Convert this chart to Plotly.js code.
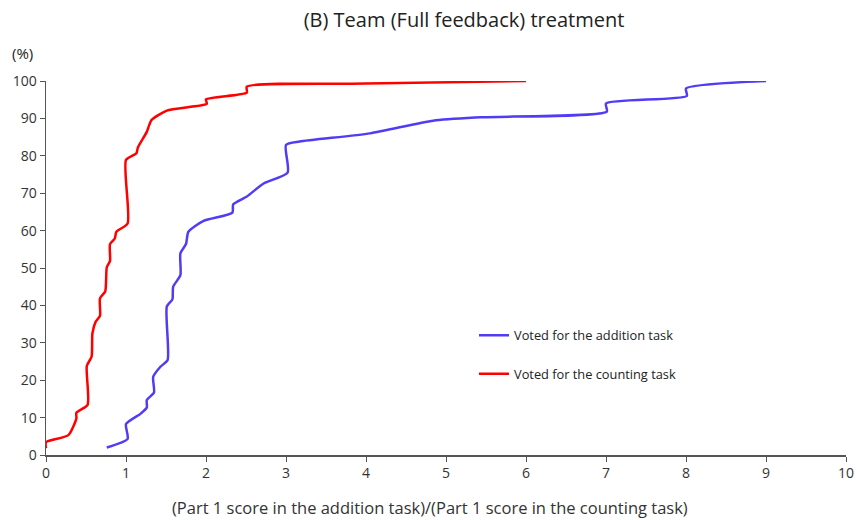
<!DOCTYPE html>
<html>
<head>
<meta charset="utf-8">
<script src="https://cdn.plot.ly/plotly-3.0.1.min.js"></script>
<style>html,body{margin:0;padding:0;background:#fff;}#chart{width:857px;height:520px;}</style>
</head>
<body>
<div id="chart"></div>
<script>
var addX = [0.76, 1.02, 1.0, 1.18, 1.26, 1.26, 1.35, 1.34, 1.43, 1.52, 1.51, 1.58, 1.59, 1.68, 1.68, 1.75, 1.78, 1.97, 2.33, 2.34, 2.51, 2.72, 3.02, 3.0, 3.17, 4.05, 4.84, 5.43, 7.01, 7.0, 8.01, 8.0, 9.0];
var addY = [2.0, 4.3, 8.3, 11.0, 12.7, 14.7, 16.7, 20.9, 23.6, 25.4, 39.7, 41.6, 45.0, 48.1, 53.9, 56.4, 59.7, 62.6, 64.8, 67.0, 69.1, 72.6, 75.5, 82.9, 83.8, 86.0, 89.4, 90.3, 91.8, 94.0, 96.0, 98.0, 100];
var cntX = [0, 0, 0.28, 0.38, 0.38, 0.52, 0.51, 0.57, 0.58, 0.62, 0.675, 0.675, 0.74, 0.76, 0.8, 0.8, 0.86, 0.88, 1.02, 1.0, 1.13, 1.15, 1.26, 1.29, 1.32, 1.51, 2.01, 2.0, 2.51, 2.51, 4.0, 6.0];
var cntY = [1.8, 3.4, 5.3, 9.8, 11.3, 13.4, 23.8, 26.3, 32.5, 35.6, 37.2, 41.9, 43.7, 50.2, 51.9, 56.4, 57.9, 59.7, 61.9, 78.9, 80.7, 82.3, 86.4, 88.2, 89.6, 92.1, 93.9, 95.1, 96.9, 98.5, 99.3, 100];
var xTicks = [0,1,2,3,4,5,6,7,8,9,10];
var yTicks = [0,10,20,30,40,50,60,70,80,90,100];
var names = ["Voted for the addition task", "Voted for the counting task"];
var titleText = "(B) Team (Full feedback) treatment";
var xTitle = "(Part 1 score in the addition task)/(Part 1 score in the counting task)";
var yUnit = "(%)";

var F = "'Open Sans', sans-serif";
var traces = [
  {x: addX, y: addY, name: names[0], mode: "lines", legendgroup: "a",
   line: {color: "rgb(80,60,245)", width: 2.5, shape: "spline", smoothing: 0.6}},
  {x: cntX, y: cntY, name: names[1], mode: "lines", legendgroup: "b",
   line: {color: "rgb(255,0,0)", width: 2.5, shape: "spline", smoothing: 0.6}}
];
var layout = {
  width: 857, height: 520,
  margin: {l: 46, r: 11, t: 81, b: 65},
  paper_bgcolor: "#fff", plot_bgcolor: "#fff",
  font: {family: F, color: "#333", size: 13},
  title: {text: titleText, font: {family: F, size: 20, color: "#222"}, x: 0.5225, xref: "paper", xanchor: "center", y: 0.962, yanchor: "middle"},
  xaxis: {range: [0, 10], tickvals: xTicks, ticktext: xTicks.map(String), showgrid: false, zeroline: false,
          showline: true, linecolor: "#555", linewidth: 1.5, ticks: "outside", ticklen: 5, tickcolor: "#555",
          tickfont: {size: 14, family: F, color: "#333"}},
  yaxis: {range: [0, 100], tickvals: yTicks, ticktext: yTicks.map(String), showgrid: false, zeroline: false,
          showline: true, linecolor: "#555", linewidth: 1.5, ticks: "outside", ticklen: 5, tickcolor: "#555",
          tickfont: {size: 14, family: F, color: "#333"}},
  showlegend: true,
  legend: {x: 0.535, y: 0.36, xanchor: "left", yanchor: "top", bgcolor: "rgba(0,0,0,0)",
           font: {size: 12.8, family: F, color: "#222"}, tracegroupgap: 19, itemwidth: 30},
  annotations: [
    {text: yUnit, xref: "paper", yref: "paper", x: -0.03, y: 1.076, showarrow: false,
     xanchor: "center", yanchor: "middle", font: {size: 15, family: F, color: "#222"}},
    {text: xTitle, xref: "paper", yref: "paper", x: 0.48, y: -0.1417, showarrow: false,
     xanchor: "center", yanchor: "middle", font: {size: 16.5, family: F, color: "#333"}}
  ]
};
Plotly.newPlot("chart", traces, layout, {displayModeBar: false, staticPlot: true});
</script>
</body>
</html>
